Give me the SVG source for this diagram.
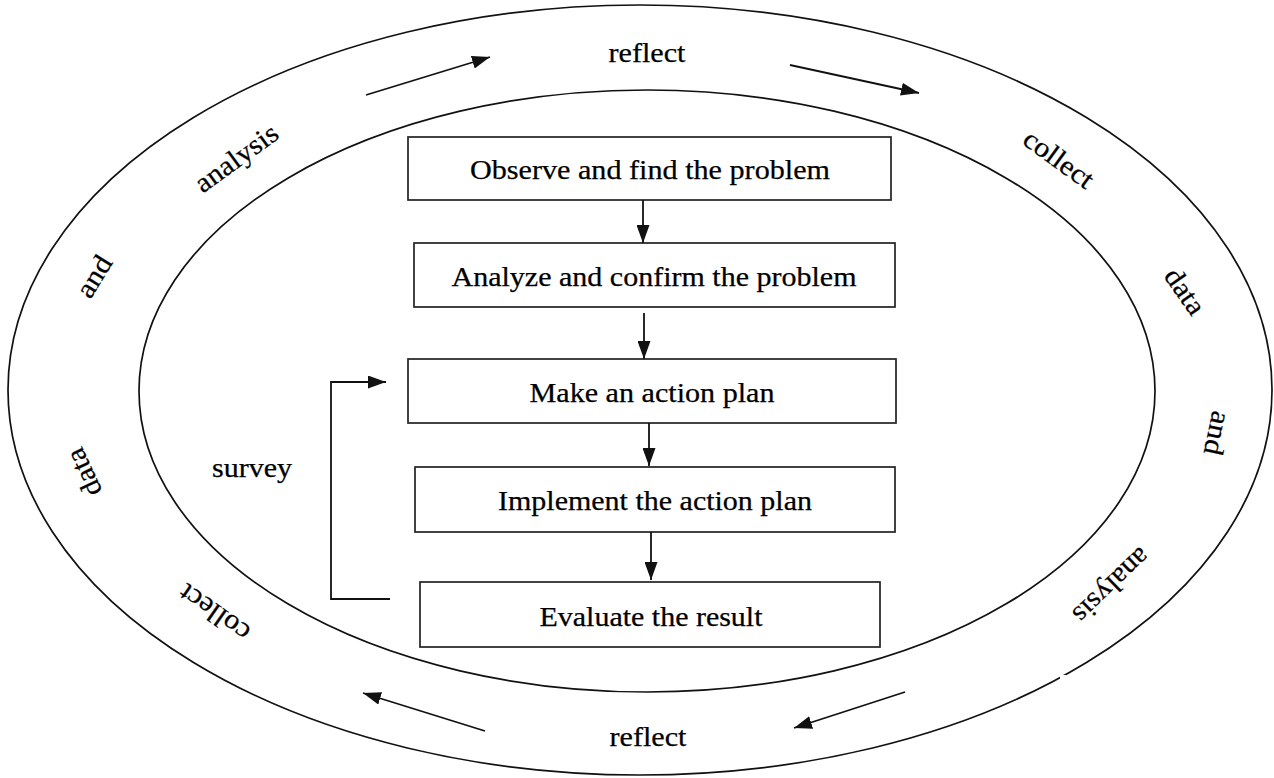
<svg xmlns="http://www.w3.org/2000/svg" width="1274" height="778" viewBox="0 0 1274 778">
<style>
.ring{fill:none;stroke:#111;stroke-width:1.7}
.box{fill:#fff;stroke:#222;stroke-width:1.7}
.t{font-family:"Liberation Serif","Times New Roman",serif;font-size:27px;fill:#000;stroke:#000;stroke-width:0.25;text-anchor:middle}
.r{font-size:28px}
.c{fill:none;stroke:#111;stroke-width:1.8}
</style>
<defs>
<marker id="ah" viewBox="0 0 18 13" refX="18" refY="6.5" markerWidth="18" markerHeight="13" markerUnits="userSpaceOnUse" orient="auto">
<path d="M0,0 L18,6.5 L0,13 z" fill="#111"/>
</marker>
</defs>
<rect width="1274" height="778" fill="#fff"/>
<g id="rings">
<ellipse class="ring" cx="640" cy="390" rx="632" ry="385"/>
<ellipse class="ring" cx="647" cy="391" rx="508" ry="301"/>
<rect x="1060" y="675" width="6" height="6" fill="#fff"/>
</g>
<g id="ring-labels">
<text class="t" x="647" y="62" textLength="77" lengthAdjust="spacingAndGlyphs">reflect</text>
<text class="t" x="648" y="746" textLength="77" lengthAdjust="spacingAndGlyphs">reflect</text>
<text class="t r" transform="translate(237,159) rotate(-36)" x="0" y="8" textLength="96" lengthAdjust="spacingAndGlyphs">analysis</text>
<text class="t r" transform="translate(95,277) rotate(-58)" x="0" y="8" textLength="44" lengthAdjust="spacingAndGlyphs">and</text>
<text class="t r" transform="translate(1058,160) rotate(36)" x="0" y="8" textLength="80" lengthAdjust="spacingAndGlyphs">collect</text>
<text class="t r" transform="translate(1184,292) rotate(55)" x="0" y="8" textLength="50" lengthAdjust="spacingAndGlyphs">data</text>
<text class="t r" transform="translate(1216,433) rotate(102)" x="0" y="8" textLength="44" lengthAdjust="spacingAndGlyphs">and</text>
<text class="t r" transform="translate(1111,585) rotate(136)" x="0" y="8" textLength="96" lengthAdjust="spacingAndGlyphs">analysis</text>
<text class="t r" transform="translate(215,612) rotate(215)" x="0" y="8" textLength="80" lengthAdjust="spacingAndGlyphs">collect</text>
<text class="t r" transform="translate(85,472) rotate(245)" x="0" y="8" textLength="50" lengthAdjust="spacingAndGlyphs">data</text>
</g>
<g id="n1"><rect class="box" x="408" y="137" width="483" height="63"/><text class="t" x="650" y="179" textLength="360" lengthAdjust="spacingAndGlyphs">Observe and find the problem</text></g>
<g id="n2"><rect class="box" x="414" y="243" width="481" height="64"/><text class="t" x="654" y="286" textLength="405" lengthAdjust="spacingAndGlyphs">Analyze and confirm the problem</text></g>
<g id="n3"><rect class="box" x="408" y="359" width="488" height="64"/><text class="t" x="652" y="402" textLength="245" lengthAdjust="spacingAndGlyphs">Make an action plan</text></g>
<g id="n4"><rect class="box" x="415" y="467" width="480" height="65"/><text class="t" x="655" y="510" textLength="314" lengthAdjust="spacingAndGlyphs">Implement the action plan</text></g>
<g id="n5"><rect class="box" x="420" y="582" width="460" height="65"/><text class="t" x="651" y="626" textLength="223" lengthAdjust="spacingAndGlyphs">Evaluate the result</text></g>
<g id="survey-label"><text class="t" x="252" y="477" textLength="80" lengthAdjust="spacingAndGlyphs">survey</text></g>
<g id="connectors">
<line class="c" x1="643" y1="200" x2="643" y2="243" marker-end="url(#ah)"/>
<line class="c" x1="644" y1="313" x2="644" y2="359" marker-end="url(#ah)"/>
<line class="c" x1="649" y1="423" x2="649" y2="466" marker-end="url(#ah)"/>
<line class="c" x1="651" y1="532" x2="651" y2="580" marker-end="url(#ah)"/>
<polyline class="c" points="390,599 331,599 331,382 386,382" marker-end="url(#ah)"/>
<line class="c" x1="366" y1="95" x2="490" y2="57" marker-end="url(#ah)"/>
<line class="c" x1="790" y1="65" x2="919" y2="93" marker-end="url(#ah)"/>
<line class="c" x1="905" y1="692" x2="794" y2="728" marker-end="url(#ah)"/>
<line class="c" x1="485" y1="731" x2="363" y2="693" marker-end="url(#ah)"/>
</g>
</svg>
